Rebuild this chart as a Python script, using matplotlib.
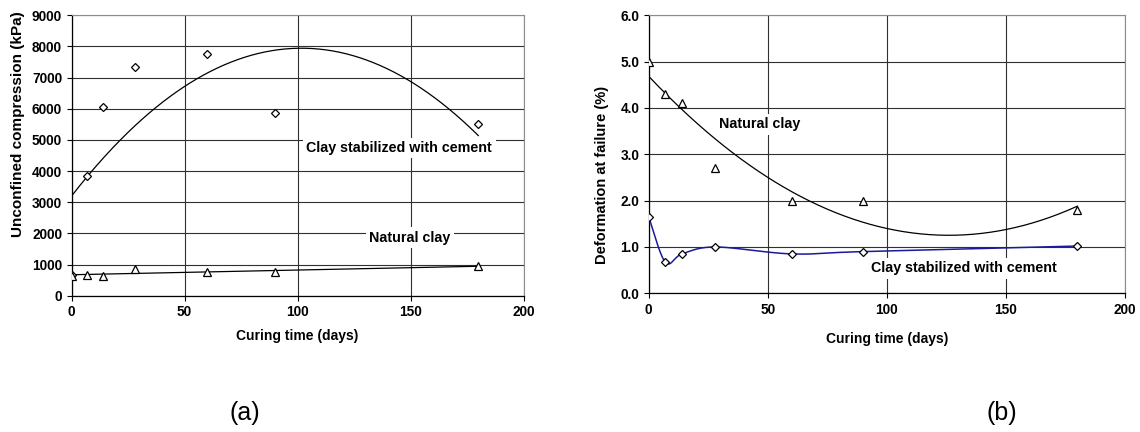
import numpy as np
import matplotlib
matplotlib.use("Agg")
import matplotlib.pyplot as plt

# ---------------- data ----------------
days = [0, 7, 14, 28, 60, 90, 180]
ucs_cement = [650, 3850, 6070, 7340, 7760, 5860, 5520]      # kPa
ucs_natural = [640, 680, 640, 860, 750, 750, 960]            # kPa
def_natural = [5.0, 4.3, 4.1, 2.7, 2.0, 2.0, 1.8]            # %
def_cement = [1.65, 0.67, 0.85, 1.0, 0.85, 0.9, 1.02]         # %

x_ticks = [0, 50, 100, 150, 200]
ucs_ticks = list(range(0, 9001, 1000))
def_ticks = [0.0, 1.0, 2.0, 3.0, 4.0, 5.0, 6.0]

lbl_cement = "Clay stabilized with cement"
lbl_natural = "Natural clay"
x_title = "Curing time (days)"
y_title_a = "Unconfined compression (kPa)"
y_title_b = "Deformation at failure (%)"

plt.rcParams['font.family'] = ['Liberation Sans', 'DejaVu Sans']

W, H = 1140, 432
fig = plt.figure(figsize=(W / 100, H / 100), dpi=100)


def px_axes(x0, x1, ytop, ybot):
    return fig.add_axes([x0 / W, 1 - ybot / H, (x1 - x0) / W, (ybot - ytop) / H])


def style(ax, yt, yfmt):
    ax.set_xlim(0, 200)
    ax.set_xticks(x_ticks)
    ax.set_yticks(yt)
    ax.set_ylim(yt[0], yt[-1])
    ax.set_yticklabels([yfmt(v) for v in yt])
    ax.grid(True, color='#303030', linewidth=0.8)
    ax.set_axisbelow(True)
    for s in ['top', 'right']:
        ax.spines[s].set_color('#8c8c8c')
        ax.spines[s].set_linewidth(0.8)
    for s in ['left', 'bottom']:
        ax.spines[s].set_color('black')
        ax.spines[s].set_linewidth(0.9)
    ax.tick_params(direction='out', length=3.6, width=0.8, color='black',
                   labelsize=9.8, pad=3.2)
    for t in ax.get_xticklabels() + ax.get_yticklabels():
        t.set_fontweight('bold')


def smooth_excel(xs, ys, n=40):
    P = np.column_stack([xs, ys]).astype(float)
    out = [P[0]]
    m = len(P)
    for i in range(m - 1):
        p0 = P[i - 1] if i > 0 else P[i]
        p1 = P[i]
        p2 = P[i + 1]
        p3 = P[i + 2] if i + 2 < m else P[i + 1]
        c1 = p1 + (p2 - p0) / 6.0
        c2 = p2 - (p3 - p1) / 6.0
        t = np.linspace(0, 1, n)[1:, None]
        seg = ((1 - t) ** 3) * p1 + 3 * ((1 - t) ** 2) * t * c1 + 3 * (1 - t) * t ** 2 * c2 + t ** 3 * p2
        out.extend(seg)
    out = np.array(out)
    return out[:, 0], out[:, 1]


xx = np.linspace(0, 180, 300)
box = dict(facecolor='white', edgecolor='none', pad=2.5)

# ---------------- (a) ----------------
axa = px_axes(71.5, 523.5, 15.3, 295.7)
style(axa, ucs_ticks, lambda v: f"{v:d}")
ca = np.polyfit(days, ucs_cement, 2)
axa.plot(xx, np.polyval(ca, xx), color='black', lw=0.9, zorder=3)
na = np.polyfit(days, ucs_natural, 1)
axa.plot(xx, np.polyval(na, xx), color='black', lw=0.9, zorder=3)
axa.plot(days, ucs_cement, linestyle='none', marker='D', ms=4.3, mfc='white',
         mec='black', mew=0.9, zorder=4)
axa.plot(days, ucs_natural, linestyle='none', marker='^', ms=6.3, mfc='white',
         mec='black', mew=0.9, zorder=4)
axa.text(145, 4740, lbl_cement, ha='center', va='center', fontsize=10.3,
         fontweight='bold', bbox=box, zorder=5)
axa.text(149.8, 1860, lbl_natural, ha='center', va='center', fontsize=10.3,
         fontweight='bold', bbox=box, zorder=5)
axa.set_xlabel(x_title, fontsize=10, fontweight='bold')
axa.xaxis.set_label_coords(0.5, -0.119)
axa.set_ylabel(y_title_a, fontsize=11, fontweight='bold')
axa.yaxis.set_label_coords(-0.103, 0.612)

# ---------------- (b) ----------------
axb = px_axes(648.7, 1125, 15.3, 293.3)
style(axb, def_ticks, lambda v: f"{v:.1f}")
cb = np.polyfit(days, def_natural, 2)
axb.plot(xx, np.polyval(cb, xx), color='black', lw=0.9, zorder=3)
sx, sy = smooth_excel(days, def_cement)
axb.plot(sx, sy, color='#1a1a9a', lw=1.1, zorder=3)
axb.plot(days, def_cement, linestyle='none', marker='D', ms=4.0, mfc='white',
         mec='black', mew=0.9, zorder=4)
axb.plot(days, def_natural, linestyle='none', marker='^', ms=6.3, mfc='white',
         mec='black', mew=0.9, zorder=4)
axb.text(46.4, 3.65, lbl_natural, ha='center', va='center', fontsize=10.3,
         fontweight='bold', bbox=box, zorder=5)
axb.text(132.5, 0.54, lbl_cement, ha='center', va='center', fontsize=10.3,
         fontweight='bold', bbox=box, zorder=5)
axb.set_xlabel(x_title, fontsize=10, fontweight='bold')
axb.xaxis.set_label_coords(0.5, -0.139)
axb.set_ylabel(y_title_b, fontsize=10.5, fontweight='bold')
axb.yaxis.set_label_coords(-0.083, 0.426)

fig.text(245 / W, 1 - 413 / H, "(a)", ha='center', va='center', fontsize=18)
fig.text(1002 / W, 1 - 413 / H, "(b)", ha='center', va='center', fontsize=18)

fig.savefig("out.png", dpi=100)
